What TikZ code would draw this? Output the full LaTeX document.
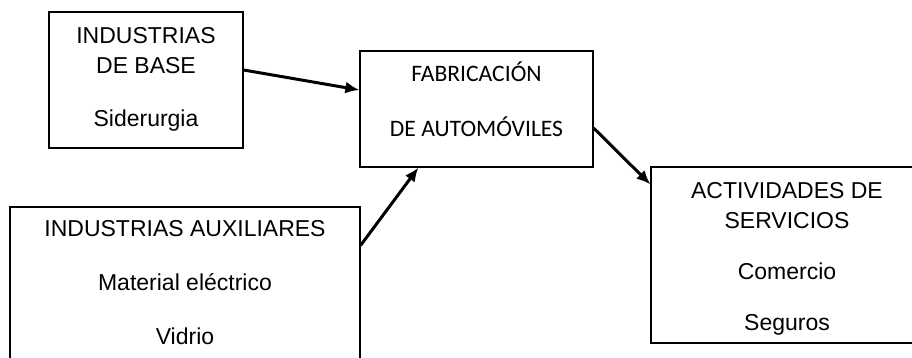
\documentclass[tikz,border=0pt]{standalone}
\usepackage{fontspec}
\setmainfont{Liberation Sans}
\newfontfamily\calibrifont{Carlito}
\usetikzlibrary{arrows.meta}
\newcommand{\topgap}[1]{\rule{0pt}{#1}}
\newcommand{\botgap}[1]{\rule[-#1]{0pt}{#1}}
\newcommand{\rpad}{\rule{24pt}{0pt}}
\tikzset{box/.style = {shape=rectangle,draw,line width=0.6pt,inner sep=0pt,align=center}}
\tikzset{edge/.style = {-{Latex[length=7pt,width=6pt]},line width=1.5pt}}

\begin{document}
\begin{tikzpicture}[x=0.5pt,y=-0.5pt]
        \useasboundingbox (0,0) rectangle (912,358);
        \clip (0,0) rectangle (912,358);
        \node[box,minimum width=97pt,font=\fontsize{11.5}{15.5}\selectfont] (base) at (146,80)
            {\topgap{15.5pt}INDUSTRIAS\\DE BASE\\[11pt]Siderurgia\botgap{10.5pt}};
        \node[box,minimum width=116.5pt,font=\calibrifont\fontsize{11.8}{27.5}\selectfont] (fab) at (476.5,109)
            {\topgap{15.5pt}FABRICACIÓN\\DE AUTOMÓVILES\botgap{15pt}};
        \node[box,minimum width=175pt,font=\fontsize{11.5}{27}\selectfont] (aux) at (185,295.5)
            {\topgap{14.5pt}INDUSTRIAS AUXILIARES\\Material eléctrico\\Vidrio\botgap{20pt}};
        % box runs off the right edge, text kept at its old centre
        \node[box,minimum width=160pt,font=\fontsize{11.5}{15}\selectfont] (serv) at (811,255)
            {\topgap{15.5pt}ACTIVIDADES DE\rpad\\SERVICIOS\rpad\\[11pt]Comercio\rpad\\[10pt]Seguros\rpad\botgap{6.5pt}};
        \draw[edge] ([yshift=5pt]base.east) -- ([yshift=9.5pt]fab.west);
        \draw[edge] ([yshift=-19.5pt]aux.north east) -- ([xshift=29.5pt]fab.south west);
        \draw[edge] ([yshift=-9.5pt]fab.east) -- ([yshift=-9pt]serv.north west);
    \end{tikzpicture}
\end{document}
